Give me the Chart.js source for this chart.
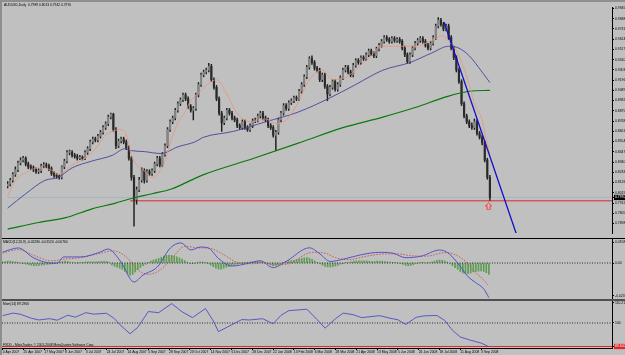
<!DOCTYPE html>
<html>
<head>
<meta charset="utf-8">
<script src="https://cdn.jsdelivr.net/npm/chart.js@4.4.1/dist/chart.umd.min.js"></script>
<style>
  html, body { margin: 0; padding: 0; background: #c0c0c0; }
  #wrap { position: relative; width: 625px; height: 355px; overflow: hidden; background: #c0c0c0; }
  #wrap canvas { position: absolute; left: 2px; }
  .ln { position: absolute; }
  .lbl { position: absolute; font: 6.6px "Liberation Sans", Arial, sans-serif; color: #000; white-space: nowrap;
         transform: scale(0.5); transform-origin: 0 0; line-height: 7px; }
</style>
</head>
<body>
<div id="wrap">
  <div class="ln" style="left:0;top:0;width:625px;height:2px;background:#8e8e8e"></div>
  <div class="ln" style="left:0;top:0;width:2px;height:355px;background:#8e8e8e"></div>
  <canvas id="cMain" style="top:2px" width="623" height="236"></canvas>
  <div class="ln" style="left:2px;top:238px;width:623px;height:1px;background:#000"></div>
  <canvas id="cMacd" style="top:239px" width="623" height="60"></canvas>
  <div class="ln" style="left:2px;top:299px;width:623px;height:2px;background:#505050"></div>
  <canvas id="cMom" style="top:301px" width="623" height="54"></canvas>
  <div class="lbl" style="left:4px;top:3px">AUDUSD,Daily&nbsp;&nbsp;0.7989 0.8013 0.7942 0.7970</div>
  <div class="lbl" style="left:3px;top:240px">MACD(12,26,9) -0.02280 -0.01520 -0.00760</div>
  <div class="lbl" style="left:3px;top:302px">Mom(14) 89.2966</div>
  <div class="lbl" style="left:3px;top:343px">FXDD - MetaTrader, © 2001-2008 MetaQuotes Software Corp.</div>
</div>
<script>
// AUDUSD daily, one candle drawn per two trading days
const opens = [0.8090,0.8110,0.8150,0.8210,0.8260,0.8330,0.8360,0.8380,0.8320,0.8290,
  0.8280,0.8260,0.8240,0.8250,0.8300,0.8310,0.8300,0.8270,0.8220,0.8200,
  0.8190,0.8180,0.8290,0.8350,0.8440,0.8440,0.8410,0.8400,0.8380,0.8390,
  0.8380,0.8440,0.8480,0.8550,0.8580,0.8570,0.8610,0.8650,0.8700,0.8740,
  0.8810,0.8840,0.8680,0.8510,0.8560,0.8580,0.8550,0.8490,0.8380,0.8180,
  0.7950,0.8050,0.8150,0.8250,0.8150,0.8240,0.8220,0.8250,0.8320,0.8380,
  0.8310,0.8420,0.8510,0.8680,0.8760,0.8800,0.8880,0.8950,0.8990,0.9040,
  0.9000,0.8920,0.8880,0.8900,0.9040,0.9150,0.9250,0.9280,0.9300,0.9340,
  0.9200,0.9120,0.9000,0.8850,0.8750,0.8800,0.8880,0.8850,0.8800,0.8780,
  0.8720,0.8700,0.8760,0.8700,0.8680,0.8720,0.8770,0.8780,0.8820,0.8850,
  0.8800,0.8780,0.8720,0.8700,0.8620,0.8650,0.8780,0.8850,0.8930,0.8900,
  0.8960,0.8980,0.9010,0.9000,0.9080,0.9150,0.9230,0.9330,0.9420,0.9380,
  0.9320,0.9300,0.9200,0.9250,0.9130,0.9050,0.9120,0.9180,0.9100,0.9150,
  0.9220,0.9300,0.9330,0.9280,0.9250,0.9350,0.9400,0.9380,0.9430,0.9420,
  0.9460,0.9500,0.9470,0.9450,0.9520,0.9560,0.9600,0.9640,0.9620,0.9600,
  0.9630,0.9610,0.9620,0.9600,0.9530,0.9460,0.9390,0.9460,0.9530,0.9580,
  0.9610,0.9630,0.9600,0.9560,0.9530,0.9580,0.9640,0.9760,0.9820,0.9780,
  0.9730,0.9760,0.9640,0.9530,0.9430,0.9300,0.9180,0.8950,0.8820,0.8760,
  0.8720,0.8700,0.8760,0.8640,0.8600,0.8540,0.8360,0.8180];
const highs = [0.8135,0.8170,0.8230,0.8290,0.8350,0.8385,0.8400,0.8395,0.8340,0.8310,
  0.8300,0.8280,0.8270,0.8320,0.8335,0.8330,0.8320,0.8290,0.8240,0.8220,
  0.8210,0.8300,0.8370,0.8460,0.8465,0.8460,0.8430,0.8420,0.8410,0.8405,
  0.8460,0.8500,0.8570,0.8600,0.8600,0.8630,0.8670,0.8720,0.8760,0.8830,
  0.8850,0.8850,0.8700,0.8580,0.8600,0.8600,0.8570,0.8510,0.8400,0.8200,
  0.8080,0.8180,0.8280,0.8270,0.8260,0.8260,0.8270,0.8340,0.8400,0.8400,
  0.8440,0.8530,0.8700,0.8780,0.8820,0.8900,0.8970,0.9010,0.9060,0.9060,
  0.9020,0.8940,0.8920,0.9060,0.9170,0.9270,0.9300,0.9320,0.9370,0.9360,
  0.9220,0.9140,0.9020,0.8870,0.8820,0.8900,0.8900,0.8870,0.8820,0.8800,
  0.8740,0.8780,0.8780,0.8720,0.8740,0.8790,0.8800,0.8840,0.8870,0.8870,
  0.8820,0.8800,0.8740,0.8720,0.8670,0.8800,0.8870,0.8950,0.8950,0.8980,
  0.9000,0.9030,0.9030,0.9100,0.9170,0.9250,0.9350,0.9440,0.9450,0.9400,
  0.9340,0.9320,0.9270,0.9270,0.9150,0.9140,0.9200,0.9200,0.9170,0.9240,
  0.9320,0.9350,0.9350,0.9300,0.9370,0.9420,0.9420,0.9450,0.9450,0.9480,
  0.9520,0.9520,0.9490,0.9540,0.9580,0.9620,0.9660,0.9660,0.9640,0.9650,
  0.9650,0.9640,0.9640,0.9620,0.9550,0.9480,0.9480,0.9550,0.9600,0.9630,
  0.9650,0.9650,0.9620,0.9580,0.9600,0.9660,0.9780,0.9849,0.9840,0.9800,
  0.9780,0.9780,0.9660,0.9550,0.9450,0.9320,0.9200,0.8970,0.8840,0.8780,
  0.8750,0.8790,0.8780,0.8660,0.8620,0.8560,0.8380,0.8200];
const lows = [0.8070,0.8090,0.8130,0.8190,0.8240,0.8310,0.8340,0.8300,0.8270,0.8260,
  0.8240,0.8220,0.8220,0.8230,0.8280,0.8280,0.8250,0.8200,0.8180,0.8170,
  0.8160,0.8165,0.8270,0.8330,0.8415,0.8390,0.8380,0.8360,0.8365,0.8360,
  0.8365,0.8420,0.8460,0.8530,0.8550,0.8550,0.8590,0.8630,0.8680,0.8720,
  0.8790,0.8660,0.8480,0.8490,0.8540,0.8530,0.8470,0.8360,0.8150,0.7670,
  0.7900,0.8030,0.8130,0.8120,0.8130,0.8200,0.8200,0.8230,0.8300,0.8290,
  0.8290,0.8400,0.8490,0.8660,0.8740,0.8780,0.8860,0.8930,0.8970,0.8980,
  0.8900,0.8860,0.8780,0.8880,0.9020,0.9130,0.9230,0.9260,0.9280,0.9180,
  0.9100,0.8980,0.8830,0.8660,0.8730,0.8780,0.8830,0.8780,0.8760,0.8700,
  0.8680,0.8680,0.8680,0.8660,0.8660,0.8700,0.8750,0.8760,0.8800,0.8780,
  0.8760,0.8700,0.8680,0.8600,0.8460,0.8630,0.8760,0.8830,0.8880,0.8880,
  0.8940,0.8960,0.8980,0.8980,0.9060,0.9130,0.9210,0.9310,0.9360,0.9300,
  0.9280,0.9180,0.9180,0.9110,0.8980,0.9030,0.9100,0.9080,0.9080,0.9130,
  0.9200,0.9280,0.9260,0.9230,0.9230,0.9330,0.9360,0.9360,0.9400,0.9400,
  0.9440,0.9450,0.9430,0.9430,0.9500,0.9540,0.9580,0.9600,0.9580,0.9580,
  0.9590,0.9590,0.9580,0.9510,0.9440,0.9370,0.9370,0.9440,0.9510,0.9560,
  0.9590,0.9580,0.9540,0.9510,0.9510,0.9560,0.9620,0.9740,0.9760,0.9710,
  0.9710,0.9620,0.9510,0.9410,0.9280,0.9160,0.8930,0.8800,0.8740,0.8700,
  0.8680,0.8680,0.8620,0.8580,0.8520,0.8340,0.8160,0.7940];
const closes = [0.8110,0.8150,0.8210,0.8260,0.8330,0.8360,0.8380,0.8320,0.8290,0.8280,
  0.8260,0.8240,0.8250,0.8300,0.8310,0.8300,0.8270,0.8220,0.8200,0.8190,
  0.8180,0.8290,0.8350,0.8440,0.8440,0.8410,0.8400,0.8380,0.8390,0.8380,
  0.8440,0.8480,0.8550,0.8580,0.8570,0.8610,0.8650,0.8700,0.8740,0.8810,
  0.8840,0.8680,0.8510,0.8560,0.8580,0.8550,0.8490,0.8380,0.8180,0.7950,
  0.8050,0.8150,0.8250,0.8150,0.8240,0.8220,0.8250,0.8320,0.8380,0.8310,
  0.8420,0.8510,0.8680,0.8760,0.8800,0.8880,0.8950,0.8990,0.9040,0.9000,
  0.8920,0.8880,0.8900,0.9040,0.9150,0.9250,0.9280,0.9300,0.9340,0.9200,
  0.9120,0.9000,0.8850,0.8750,0.8800,0.8880,0.8850,0.8800,0.8780,0.8720,
  0.8700,0.8760,0.8700,0.8680,0.8720,0.8770,0.8780,0.8820,0.8850,0.8800,
  0.8780,0.8720,0.8700,0.8620,0.8650,0.8780,0.8850,0.8930,0.8900,0.8960,
  0.8980,0.9010,0.9000,0.9080,0.9150,0.9230,0.9330,0.9420,0.9380,0.9320,
  0.9300,0.9200,0.9250,0.9130,0.9050,0.9120,0.9180,0.9100,0.9150,0.9220,
  0.9300,0.9330,0.9280,0.9250,0.9350,0.9400,0.9380,0.9430,0.9420,0.9460,
  0.9500,0.9470,0.9450,0.9520,0.9560,0.9600,0.9640,0.9620,0.9600,0.9630,
  0.9610,0.9620,0.9600,0.9530,0.9460,0.9390,0.9460,0.9530,0.9580,0.9610,
  0.9630,0.9600,0.9560,0.9530,0.9580,0.9640,0.9760,0.9820,0.9780,0.9730,
  0.9760,0.9640,0.9530,0.9430,0.9300,0.9180,0.8950,0.8820,0.8760,0.8720,
  0.8700,0.8760,0.8640,0.8600,0.8540,0.8360,0.8180,0.7970];

// moving averages as [bar, price]
const maFast = [[0,0.7979],[6,0.8149],[14,0.8229],[24,0.8279],[35,0.8249],[39,0.8209],[50,0.8309],[60,0.8379],
  [70,0.8509],[75,0.8609],[81,0.8659],[87,0.8679],[91,0.8659],[93,0.8579],[96,0.8409],[100,0.8309],[106,0.8249],
  [112,0.8179],[116,0.8209],[122,0.8349],[127,0.8579],[132,0.8749],[137,0.8849],[142,0.8979],[147,0.9049],
  [155,0.9150],[162,0.9200],[170,0.9050],[178,0.8850],[190,0.8760],[200,0.8790],[208,0.8740],[216,0.8780],
  [224,0.8930],[234,0.9200],[244,0.9300],[252,0.9200],[262,0.9220],[272,0.9330],[282,0.9450],[289,0.9549],
  [301,0.9549],[316,0.9549],[329,0.9609],[337,0.9659],[342,0.9599],[350,0.9449],[358,0.9149],[362,0.8949],
  [368,0.8779],[370,0.8649],[374,0.8420]];
const maMid = [[0,0.7859],[14,0.8009],[29,0.8149],[39,0.8179],[50,0.8279],[65,0.8349],[81,0.8409],[91,0.8479],
  [96,0.8459],[106,0.8449],[119,0.8429],[132,0.8499],[145,0.8549],[152,0.8599],[175,0.8660],[200,0.8760],
  [225,0.8860],[250,0.9010],[270,0.9150],[291,0.9299],[312,0.9379],[329,0.9479],[342,0.9549],[350,0.9529],
  [358,0.9449],[368,0.9279],[374,0.9170]];
const maSlow = [[0,0.7639],[24,0.7709],[45,0.7759],[65,0.7849],[83,0.7909],[96,0.7959],[112,0.8009],[127,0.8059],
  [142,0.8149],[152,0.8209],[191,0.8379],[228,0.8549],[260,0.8699],[291,0.8809],[316,0.8909],[342,0.9029],
  [358,0.9079],[374,0.9089]];
const trendLine = [[338.5,0.9799],[395,0.7570]];
const lastPrice = 0.7970;
const supportLevel = 0.7935;
const supportFrom = 95;
const arrowAt = [373, 0.7877];

// MACD(12,26,9)
const macdMain = [[0,0.0072],[12,0.0099],[24,0.0033],[37,0.0000],[42,0.0000],[47,0.0040],[60,0.0040],[75,0.0072],
  [81,0.0092],[91,0.0007],[101,-0.0125],[108,-0.0079],[119,-0.0026],[129,0.0099],[137,0.0132],[145,0.0086],
  [152,0.0105],[158,0.0100],[166,0.0030],[176,-0.0020],[190,0.0000],[198,0.0015],[208,-0.0030],[218,0.0010],
  [236,0.0100],[244,0.0060],[252,0.0010],[262,0.0025],[276,0.0055],[290,0.0070],[300,0.0065],[310,0.0035],
  [322,0.0045],[336,0.0085],[342,0.0070],[350,0.0000],[358,-0.0090],[364,-0.0130],[370,-0.0170],[374,-0.0228]];
const macdSignal = [[0,0.0065],[12,0.0088],[24,0.0050],[37,0.0014],[47,0.0025],[60,0.0035],[75,0.0064],[85,0.0080],
  [95,0.0040],[104,-0.0045],[112,-0.0075],[122,-0.0040],[132,0.0050],[140,0.0110],[150,0.0100],[160,0.0095],
  [170,0.0055],[180,0.0005],[192,-0.0005],[200,0.0005],[210,-0.0012],[220,-0.0005],[238,0.0070],[248,0.0065],
  [256,0.0035],[266,0.0022],[280,0.0045],[294,0.0060],[304,0.0060],[314,0.0048],[326,0.0045],[340,0.0068],
  [348,0.0055],[356,0.0010],[362,-0.0050],[368,-0.0095],[374,-0.0150]];
const macdHist = [0.0008,0.0010,0.0012,0.0012,0.0010,0.0008,0.0004,0.0000,-0.0004,-0.0008,
  -0.0012,-0.0015,-0.0018,-0.0018,-0.0016,-0.0014,-0.0012,-0.0010,-0.0008,-0.0006,
  -0.0004,0.0000,0.0006,0.0010,0.0012,0.0010,0.0006,0.0003,0.0000,0.0001,
  0.0003,0.0005,0.0007,0.0008,0.0008,0.0007,0.0008,0.0009,0.0010,0.0011,
  0.0010,0.0004,-0.0012,-0.0022,-0.0028,-0.0034,-0.0042,-0.0055,-0.0068,-0.0080,
  -0.0075,-0.0060,-0.0042,-0.0030,-0.0018,-0.0008,0.0002,0.0012,0.0020,0.0024,
  0.0030,0.0038,0.0046,0.0050,0.0052,0.0050,0.0046,0.0040,0.0034,0.0026,
  0.0016,0.0006,-0.0002,-0.0004,-0.0002,0.0004,0.0008,0.0006,0.0004,-0.0004,
  -0.0014,-0.0024,-0.0034,-0.0040,-0.0040,-0.0034,-0.0028,-0.0022,-0.0016,-0.0012,
  -0.0008,-0.0004,0.0000,0.0002,0.0004,0.0006,0.0008,0.0010,0.0010,0.0008,
  0.0004,0.0000,-0.0006,-0.0012,-0.0018,-0.0016,-0.0010,-0.0004,0.0004,0.0010,
  0.0014,0.0016,0.0018,0.0022,0.0026,0.0030,0.0034,0.0036,0.0032,0.0024,
  0.0014,0.0004,-0.0006,-0.0014,-0.0022,-0.0026,-0.0026,-0.0024,-0.0020,-0.0014,
  -0.0008,-0.0002,0.0002,0.0004,0.0008,0.0012,0.0014,0.0014,0.0014,0.0014,
  0.0014,0.0012,0.0010,0.0010,0.0012,0.0012,0.0012,0.0010,0.0008,0.0006,
  0.0004,0.0002,0.0000,-0.0004,-0.0010,-0.0016,-0.0018,-0.0016,-0.0010,-0.0004,
  0.0000,0.0002,0.0002,0.0000,0.0002,0.0006,0.0012,0.0018,0.0020,0.0018,
  0.0014,0.0006,-0.0006,-0.0018,-0.0030,-0.0042,-0.0056,-0.0066,-0.0070,-0.0070,
  -0.0066,-0.0058,-0.0056,-0.0054,-0.0052,-0.0056,-0.0064,-0.0076];

// Momentum(14)
const momentum = [[0,103.4],[8,104.6],[14,104.0],[22,102.2],[28,101.4],[36,102.0],[42,101.3],[50,103.6],[56,102.7],
  [64,104.8],[70,104.1],[80,104.5],[86,102.0],[90,99.3],[98,95.0],[104,98.0],[112,105.3],[120,104.8],[130,109.0],
  [138,105.2],[146,102.5],[156,106.7],[162,101.0],[166,96.0],[176,99.1],[184,101.6],[190,101.4],[200,102.0],
  [208,99.6],[214,103.5],[220,105.7],[234,106.4],[242,101.5],[248,97.6],[256,102.0],[262,104.6],[270,103.8],
  [276,102.5],[290,103.4],[298,102.2],[304,101.5],[310,99.3],[318,102.6],[324,103.3],[334,103.5],[340,101.2],
  [346,96.6],[352,93.5],[360,92.0],[368,90.7],[374,89.0]];
const momLevel = 100;
const momLowLine = 89.1;

// axis labels
const priceTicks = [0.9945,0.9838,0.9731,0.9624,0.9517,0.9410,0.9303,0.9196,0.9089,0.8982,0.8875,
  0.8768,0.8661,0.8554,0.8447,0.8340,0.8233,0.8126,0.8019,0.7912,0.7805,0.7698];
const macdTicks = [0.0138, 0, -0.0217];
const macdTickText = ['0.015808', '0.00', '-0.023700'];
const momTicks = [109.3, 100, momLowLine];
const momTickText = ['110.2134', '100', '89.1000'];
const dateTickPos = [0,16,32,48,64,80,96,112,128,144,160,176,192,208,224,240,256,272,288,304,320,336,352,368];
const dateLabels = ['4 Apr 2007','25 Apr 2007','17 May 2007','8 Jun 2007','3 Jul 2007','24 Jul 2007','14 Aug 2007',
  '5 Sep 2007','28 Sep 2007','23 Oct 2007','14 Nov 2007','6 Dec 2007','28 Dec 2007','22 Jan 2008','13 Feb 2008',
  '6 Mar 2008','28 Mar 2008','21 Apr 2008','13 May 2008','5 Jun 2008','26 Jun 2008','18 Jul 2008','11 Aug 2008','3 Sep 2008'];

const BAR_STEP = 2;
const X_MIN = -0.5, X_MAX = 468.7;
const FS = 3.4;

Chart.defaults.font.family = '"Liberation Sans", Arial, sans-serif';
Chart.defaults.color = '#000';

const barX = closes.map((c, i) => i * BAR_STEP);
const pts = arr => arr.map(p => ({ x: p[0], y: p[1] }));
const hline = (from, v) => [{ x: from, y: v }, { x: X_MAX, y: v }];

function xAxis(show) {
  if (!show) return { type: 'linear', min: X_MIN, max: X_MAX, display: false, offset: false };
  return {
    type: 'linear', min: X_MIN, max: X_MAX, offset: false,
    afterBuildTicks: s => { s.ticks = dateTickPos.map(v => ({ value: v })); },
    afterFit: s => { s.height = 7; s.paddingLeft = 0; s.paddingRight = 0; },
    ticks: { autoSkip: false, maxRotation: 0, align: 'start', padding: 0.5, font: { size: FS },
             callback: (v, i) => dateLabels[i] },
    grid: { drawOnChartArea: false, tickLength: 2, color: '#000', offset: false },
    border: { color: '#000' }
  };
}

function yAxis(min, max, tickVals, textFn, mark) {
  const isMark = c => !!(mark && c.tick && c.tick.value === mark.value);
  return {
    type: 'linear', position: 'right', min, max,
    afterBuildTicks: s => { s.ticks = tickVals.map(v => ({ value: v })); },
    afterFit: s => { s.width = 13; s.paddingTop = 0; s.paddingBottom = 0; },
    ticks: {
      font: { size: FS }, padding: 1,
      color: c => isMark(c) ? mark.fg : '#000',
      showLabelBackdrop: c => isMark(c),
      backdropColor: mark ? mark.bg : 'transparent',
      backdropPadding: { top: 0.6, bottom: 0.6, left: 1, right: 6 },
      callback: textFn
    },
    grid: { drawOnChartArea: false, tickLength: 2, color: '#000' },
    border: { color: '#000' }
  };
}

const base = {
  responsive: false, animation: false, events: [],
  layout: { padding: 0 },
  plugins: { legend: { display: false }, tooltip: { enabled: false } }
};

// small hollow up arrow used as a point marker
const arrow = document.createElement('canvas');
arrow.width = 7; arrow.height = 8;
(function () {
  const g = arrow.getContext('2d');
  g.beginPath();
  g.moveTo(3.5, 0.5); g.lineTo(6.5, 3.5); g.lineTo(5, 3.5); g.lineTo(5, 7.5);
  g.lineTo(2, 7.5); g.lineTo(2, 3.5); g.lineTo(0.5, 3.5); g.closePath();
  g.fillStyle = '#f2b4b4'; g.fill();
  g.strokeStyle = '#e03c3c'; g.lineWidth = 1; g.stroke();
})();

// price window
new Chart(document.getElementById('cMain'), {
  type: 'bar',
  data: {
    datasets: [
      { type: 'line', data: pts(trendLine), borderColor: '#1010c8', borderWidth: 1.3, pointRadius: 0, order: 1 },
      { type: 'line', data: pts(maFast), borderColor: '#e8957a', borderWidth: 0.8, pointRadius: 0,
        cubicInterpolationMode: 'monotone', order: 2 },
      { type: 'line', data: pts(maMid), borderColor: '#44449a', borderWidth: 0.9, pointRadius: 0,
        cubicInterpolationMode: 'monotone', order: 2 },
      { type: 'line', data: pts(maSlow), borderColor: '#0a7a0a', borderWidth: 1.2, pointRadius: 0,
        cubicInterpolationMode: 'monotone', order: 2 },
      { type: 'line', data: hline(X_MIN, lastPrice), borderColor: '#a4b4c4', borderWidth: 1, pointRadius: 0, order: 6 },
      { type: 'line', data: hline(supportFrom, supportLevel), borderColor: '#e02828', borderWidth: 1, pointRadius: 0, order: 5 },
      { type: 'line', data: [{ x: arrowAt[0], y: arrowAt[1] }], showLine: false, pointStyle: arrow, pointRadius: 4, order: 0 },
      { type: 'bar', data: barX.map((x, i) => ({ x, y: [opens[i], closes[i]] })), barThickness: 1.5, grouped: false,
        minBarLength: 1, order: 3,
        backgroundColor: c => closes[c.dataIndex] >= opens[c.dataIndex] ? '#858585' : '#2a2a2a' },
      { type: 'bar', data: barX.map((x, i) => ({ x, y: [lows[i], highs[i]] })), barThickness: 0.8, grouped: false,
        backgroundColor: '#1e1e1e', order: 4 }
    ]
  },
  options: Object.assign({}, base, {
    scales: {
      x: xAxis(false),
      y: yAxis(0.7599, 0.9959, priceTicks.concat([lastPrice]), v => v.toFixed(4),
               { value: lastPrice, bg: '#000', fg: '#fff' })
    }
  })
});

// MACD window
new Chart(document.getElementById('cMacd'), {
  type: 'bar',
  data: {
    datasets: [
      { type: 'line', data: pts(macdMain), borderColor: '#4848c8', borderWidth: 0.9, pointRadius: 0,
        cubicInterpolationMode: 'monotone', order: 1 },
      { type: 'line', data: pts(macdSignal), borderColor: '#d04848', borderWidth: 0.9, borderDash: [1.5, 1.5],
        pointRadius: 0, cubicInterpolationMode: 'monotone', order: 2 },
      { type: 'line', data: hline(X_MIN, 0), borderColor: '#000', borderWidth: 0.8, borderDash: [1, 1.5],
        pointRadius: 0, order: 3 },
      { type: 'bar', data: barX.map((x, i) => ({ x, y: macdHist[i] })), barThickness: 1, grouped: false,
        backgroundColor: '#5a9e50', order: 4 }
    ]
  },
  options: Object.assign({}, base, {
    scales: {
      x: xAxis(false),
      y: yAxis(-0.0237, 0.0158, macdTicks, (v, i) => macdTickText[i])
    }
  })
});

// Momentum window with the date axis
new Chart(document.getElementById('cMom'), {
  type: 'line',
  data: {
    datasets: [
      { data: pts(momentum), borderColor: '#4c4cc8', borderWidth: 0.9, pointRadius: 0, order: 1 },
      { data: hline(X_MIN, momLevel), borderColor: '#000', borderWidth: 0.8, borderDash: [1, 1.5], pointRadius: 0, order: 2 },
      { data: hline(X_MIN, momLowLine), borderColor: '#e02828', borderWidth: 1, pointRadius: 0, order: 3 }
    ]
  },
  options: Object.assign({}, base, {
    scales: {
      x: xAxis(true),
      y: yAxis(88.4, 110.2, momTicks, (v, i) => momTickText[i], { value: momLowLine, bg: '#e02828', fg: '#fff' })
    }
  })
});
</script>
</body>
</html>
